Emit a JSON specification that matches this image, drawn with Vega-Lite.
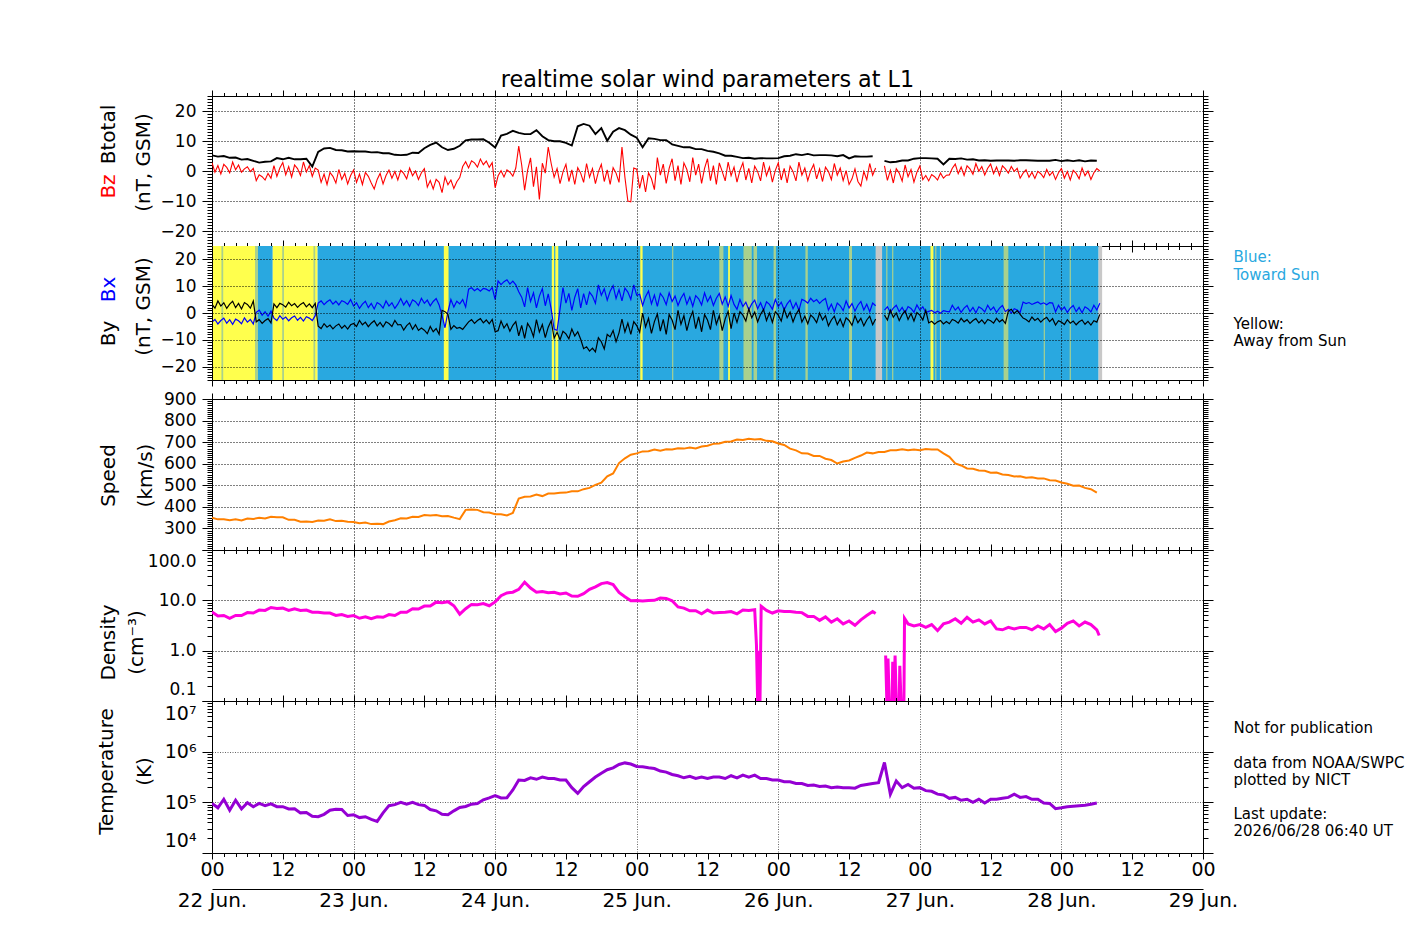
{
  "$schema": "https://vega.github.io/schema/vega-lite/v6.json",
  "padding": {"left": 96, "top": 69, "right": 8, "bottom": 8},
  "background": "white",
  "config": {
    "font": "DejaVu Sans",
    "view": {"stroke": null},
    "axis": {
      "labelFont": "DejaVu Sans", "labelFontSize": 17, "labelColor": "black",
      "titleFont": "DejaVu Sans", "titleFontSize": 20, "titleFontWeight": "normal", "titleColor": "black",
      "domainColor": "black", "tickColor": "black", "gridColor": "black", "gridDash": [1, 2], "gridWidth": 1,
      "labelFlush": false, "labelOverlap": false
    }
  },
  "datasets": {
    "bfield": [
      {"h":0,"bz":2.8,"by":3.2,"bx":-3.4},{"h":0.5,"bz":-0.4,"by":1.8,"bx":-2.4},{"h":1,"bz":1.8,"by":4.5,"bx":-4.1},{"h":1.5,"bz":-1.0,"by":2.6,"bx":-2.8},
      {"h":2,"bz":2.2,"by":3.8,"bx":-1.9},{"h":2.5,"bz":1.2,"by":1.7,"bx":-3.8},{"h":3,"bz":-0.6,"by":3.3,"bx":-2.5},{"h":3.5,"bz":3.0,"by":4.4,"bx":-4.2},
      {"h":4,"bz":0.4,"by":2.0,"bx":-2.3},{"h":4.5,"bz":2.0,"by":3.6,"bx":-2.9},{"h":5,"bz":-0.4,"by":1.5,"bx":-4.0},{"h":5.5,"bz":0.7,"by":3.9,"bx":-1.8},
      {"h":6,"bz":1.4,"by":3.2,"bx":-3.4},{"h":6.5,"bz":-0.2,"by":1.8,"bx":-2.4},{"h":7,"bz":0.9,"by":4.5,"bx":-4.1},{"h":7.5,"bz":-3.2,"by":-3.3,"bx":0.2},
      {"h":8,"bz":-1.3,"by":-2.5,"bx":1.1},{"h":8.5,"bz":-1.9,"by":-3.9,"bx":-0.8},{"h":9,"bz":-3.0,"by":-2.8,"bx":0.5},{"h":9.5,"bz":-0.8,"by":-2.1,"bx":-1.2},
      {"h":10,"bz":-2.4,"by":-3.7,"bx":0.7},{"h":10.5,"bz":1.8,"by":3.4,"bx":-1.9},{"h":11,"bz":-1.8,"by":2.0,"bx":-2.8},{"h":11.5,"bz":1.0,"by":3.6,"bx":-1.0},
      {"h":12,"bz":2.8,"by":3.1,"bx":-2.3},{"h":12.5,"bz":-1.3,"by":2.2,"bx":-1.5},{"h":13,"bz":1.5,"by":4.0,"bx":-2.9},{"h":13.5,"bz":-2.0,"by":2.7,"bx":-1.8},
      {"h":14,"bz":2.0,"by":3.5,"bx":-1.1},{"h":14.5,"bz":0.8,"by":2.1,"bx":-2.7},{"h":15,"bz":-1.5,"by":3.2,"bx":-1.6},{"h":15.5,"bz":3.0,"by":3.9,"bx":-3.0},
      {"h":16,"bz":-0.3,"by":2.3,"bx":-1.4},{"h":16.5,"bz":1.8,"by":3.4,"bx":-1.9},{"h":17,"bz":-1.8,"by":2.0,"bx":-2.8},{"h":17.5,"bz":1.0,"by":3.6,"bx":-1.0},
      {"h":18,"bz":0.3,"by":-4.9,"bx":3.7},{"h":18.5,"bz":-3.8,"by":-5.8,"bx":4.5},{"h":19,"bz":-1.0,"by":-4.0,"bx":3.1},{"h":19.5,"bz":-4.5,"by":-5.3,"bx":4.2},
      {"h":20,"bz":-0.5,"by":-4.5,"bx":4.9},{"h":20.5,"bz":-1.8,"by":-5.9,"bx":3.3},{"h":21,"bz":-4.0,"by":-4.8,"bx":4.4},{"h":21.5,"bz":0.5,"by":-4.1,"bx":3.0},
      {"h":22,"bz":-2.8,"by":-5.7,"bx":4.6},{"h":22.5,"bz":-0.8,"by":-4.6,"bx":4.1},{"h":23,"bz":-4.3,"by":-6.0,"bx":3.2},{"h":23.5,"bz":-1.5,"by":-4.4,"bx":5.0},
      {"h":24,"bz":0.3,"by":-3.9,"bx":2.6},{"h":24.5,"bz":-3.8,"by":-5.0,"bx":3.8},{"h":25,"bz":-1.0,"by":-2.8,"bx":1.7},{"h":25.5,"bz":-4.5,"by":-4.4,"bx":3.3},
      {"h":26,"bz":-0.5,"by":-3.4,"bx":4.4},{"h":26.5,"bz":-1.8,"by":-5.1,"bx":2.0},{"h":27,"bz":-4.0,"by":-3.8,"bx":3.6},{"h":27.5,"bz":-6.0,"by":-2.9,"bx":1.5},
      {"h":28,"bz":-2.8,"by":-4.8,"bx":3.9},{"h":28.5,"bz":-0.8,"by":-3.5,"bx":3.2},{"h":29,"bz":-4.3,"by":-5.2,"bx":1.8},{"h":29.5,"bz":-1.5,"by":-3.3,"bx":4.5},
      {"h":30,"bz":0.3,"by":-3.9,"bx":2.6},{"h":30.5,"bz":-2.4,"by":-5.0,"bx":3.8},{"h":31,"bz":-0.2,"by":-2.8,"bx":1.7},{"h":31.5,"bz":-3.0,"by":-4.4,"bx":3.3},
      {"h":32,"bz":0.2,"by":-4.3,"bx":5.4},{"h":32.5,"bz":-0.8,"by":-6.4,"bx":3.0},{"h":33,"bz":-2.6,"by":-4.7,"bx":4.6},{"h":33.5,"bz":1.0,"by":-3.7,"bx":2.5},
      {"h":34,"bz":-1.6,"by":-6.1,"bx":4.9},{"h":34.5,"bz":0.0,"by":-4.4,"bx":4.2},{"h":35,"bz":-2.8,"by":-6.5,"bx":2.8},{"h":35.5,"bz":-0.6,"by":-5.6,"bx":5.5},
      {"h":36,"bz":0.8,"by":-6.4,"bx":3.6},{"h":36.5,"bz":-5.4,"by":-7.7,"bx":4.8},{"h":37,"bz":-3.2,"by":-5.0,"bx":2.7},{"h":37.5,"bz":-6.0,"by":-7.0,"bx":4.3},
      {"h":38,"bz":-2.8,"by":-5.8,"bx":5.4},{"h":38.5,"bz":-3.8,"by":-7.9,"bx":3.0},{"h":39,"bz":-7.2,"by":1.0,"bx":-1.0},{"h":39.5,"bz":-2.0,"by":0.5,"bx":-5.5},
      {"h":40,"bz":-4.6,"by":-0.5,"bx":0.5},{"h":40.5,"bz":-3.0,"by":-6.1,"bx":5.0},{"h":41,"bz":-5.8,"by":-4.7,"bx":2.2},{"h":41.5,"bz":-3.6,"by":-5.7,"bx":4.4},
      {"h":42,"bz":-2.2,"by":-5.4,"bx":3.4},{"h":42.5,"bz":1.5,"by":-6.1,"bx":5.0},{"h":43,"bz":3.1,"by":-4.7,"bx":2.2},{"h":43.5,"bz":1.0,"by":-3.3,"bx":8.9},
      {"h":44,"bz":3.4,"by":-2.5,"bx":9.4},{"h":44.5,"bz":2.7,"by":-3.9,"bx":8.3},{"h":45,"bz":1.3,"by":-2.8,"bx":9.1},{"h":45.5,"bz":4.0,"by":-2.1,"bx":8.1},
      {"h":46,"bz":2.1,"by":-3.7,"bx":9.2},{"h":46.5,"bz":3.3,"by":-2.6,"bx":8.9},{"h":47,"bz":1.2,"by":-4.0,"bx":8.2},{"h":47.5,"bz":2.8,"by":-2.4,"bx":9.5},
      {"h":48,"bz":-5.6,"by":-7.0,"bx":5.0},{"h":48.5,"bz":-1.6,"by":-6.6,"bx":12.0},{"h":49,"bz":0.1,"by":-3.0,"bx":10.6},{"h":49.5,"bz":-2.0,"by":-5.6,"bx":11.7},
      {"h":50,"bz":0.4,"by":-4.0,"bx":12.4},{"h":50.5,"bz":-0.4,"by":-6.8,"bx":10.8},{"h":51,"bz":-1.7,"by":-4.6,"bx":11.9},{"h":51.5,"bz":1.0,"by":-3.2,"bx":10.5},
      {"h":52,"bz":8.3,"by":-8.5,"bx":7.9},{"h":52.5,"bz":2.0,"by":-4.6,"bx":5.9},{"h":53,"bz":-6.4,"by":-9.5,"bx":2.3},{"h":53.5,"bz":0.2,"by":-3.9,"bx":9.5},
      {"h":54,"bz":4.4,"by":-5.7,"bx":4.3},{"h":54.5,"bz":-5.2,"by":-8.8,"bx":7.5},{"h":55,"bz":1.4,"by":-2.5,"bx":1.9},{"h":55.5,"bz":-9.5,"by":-7.1,"bx":6.3},
      {"h":56,"bz":2.6,"by":-4.3,"bx":9.1},{"h":56.5,"bz":-0.7,"by":-9.2,"bx":2.7},{"h":57,"bz":8.0,"by":-5.3,"bx":7.1},{"h":57.5,"bz":2.5,"by":-2.9,"bx":1.5},
      {"h":58,"bz":-2.1,"by":-9.4,"bx":-6.0},{"h":58.5,"bz":0.8,"by":-7.2,"bx":-6.5},{"h":59,"bz":-4.2,"by":-10.0,"bx":1.4},{"h":59.5,"bz":-0.3,"by":-6.8,"bx":9.5},
      {"h":60,"bz":2.2,"by":-7.8,"bx":3.7},{"h":60.5,"bz":-3.5,"by":-9.6,"bx":7.3},{"h":61,"bz":0.4,"by":-6.0,"bx":1.0},{"h":61.5,"bz":-4.5,"by":-8.6,"bx":5.9},
      {"h":62,"bz":1.1,"by":-7.0,"bx":9.1},{"h":62.5,"bz":-0.7,"by":-9.8,"bx":1.9},{"h":63,"bz":-3.8,"by":-13.3,"bx":7.2},{"h":63.5,"bz":2.5,"by":-12.6,"bx":3.0},
      {"h":64,"bz":-2.1,"by":-14.2,"bx":7.8},{"h":64.5,"bz":0.8,"by":-13.1,"bx":6.3},{"h":65,"bz":-4.2,"by":-14.5,"bx":3.6},{"h":65.5,"bz":-0.3,"by":-9.2,"bx":10.5},
      {"h":66,"bz":2.2,"by":-10.7,"bx":6.6},{"h":66.5,"bz":-3.5,"by":-13.4,"bx":9.0},{"h":67,"bz":0.4,"by":-8.0,"bx":4.8},{"h":67.5,"bz":-4.5,"by":-8.9,"bx":8.1},
      {"h":68,"bz":1.1,"by":-6.5,"bx":10.2},{"h":68.5,"bz":-0.7,"by":-10.7,"bx":5.4},{"h":69,"bz":-3.8,"by":-7.4,"bx":8.7},{"h":69.5,"bz":8.0,"by":-2.3,"bx":4.5},
      {"h":70,"bz":-2.1,"by":-7.1,"bx":9.3},{"h":70.5,"bz":-10.0,"by":-3.8,"bx":7.8},{"h":71,"bz":-10.3,"by":-8.0,"bx":5.1},{"h":71.5,"bz":1.0,"by":-3.2,"bx":10.5},
      {"h":72,"bz":0.6,"by":-4.7,"bx":6.6},{"h":72.5,"bz":-5.8,"by":-7.2,"bx":7.0},{"h":73,"bz":-1.4,"by":0.0,"bx":2.8},{"h":73.5,"bz":-7.0,"by":-5.2,"bx":6.1},
      {"h":74,"bz":-0.6,"by":-2.0,"bx":8.2},{"h":74.5,"bz":-2.6,"by":-7.6,"bx":3.4},{"h":75,"bz":-6.2,"by":-3.2,"bx":6.7},{"h":75.5,"bz":4.5,"by":-0.4,"bx":2.5},
      {"h":76,"bz":-1.4,"by":-6.8,"bx":7.3},{"h":76.5,"bz":2.3,"by":-2.4,"bx":5.8},{"h":77,"bz":-4.1,"by":-8.0,"bx":3.1},{"h":77.5,"bz":0.9,"by":-0.6,"bx":7.5},
      {"h":78,"bz":4.1,"by":-2.6,"bx":4.3},{"h":78.5,"bz":-3.2,"by":-6.2,"bx":6.3},{"h":79,"bz":1.8,"by":1.0,"bx":2.8},{"h":79.5,"bz":-4.5,"by":-4.2,"bx":5.5},
      {"h":80,"bz":2.7,"by":-1.0,"bx":7.3},{"h":80.5,"bz":0.5,"by":-6.6,"bx":3.3},{"h":81,"bz":-3.6,"by":-2.2,"bx":6.0},{"h":81.5,"bz":4.5,"by":0.6,"bx":2.5},
      {"h":82,"bz":-1.4,"by":-5.8,"bx":6.5},{"h":82.5,"bz":2.3,"by":-1.4,"bx":5.3},{"h":83,"bz":-4.1,"by":-7.0,"bx":3.0},{"h":83.5,"bz":0.9,"by":-0.6,"bx":7.5},
      {"h":84,"bz":4.1,"by":-2.6,"bx":4.3},{"h":84.5,"bz":-3.2,"by":-6.2,"bx":6.3},{"h":85,"bz":1.8,"by":1.0,"bx":2.8},{"h":85.5,"bz":-4.5,"by":-4.2,"bx":5.5},
      {"h":86,"bz":2.7,"by":-1.0,"bx":7.3},{"h":86.5,"bz":-0.2,"by":-6.6,"bx":3.3},{"h":87,"bz":-3.3,"by":-2.2,"bx":6.0},{"h":87.5,"bz":3.0,"by":0.6,"bx":2.5},
      {"h":88,"bz":-1.6,"by":-5.8,"bx":6.5},{"h":88.5,"bz":1.3,"by":0.0,"bx":3.2},{"h":89,"bz":-3.7,"by":-3.5,"bx":1.4},{"h":89.5,"bz":0.2,"by":0.5,"bx":5.0},
      {"h":90,"bz":2.7,"by":-0.8,"bx":2.4},{"h":90.5,"bz":-3.0,"by":-3.0,"bx":4.0},{"h":91,"bz":0.9,"by":1.5,"bx":1.2},{"h":91.5,"bz":-4.0,"by":-1.8,"bx":3.4},
      {"h":92,"bz":1.6,"by":0.3,"bx":4.8},{"h":92.5,"bz":-0.2,"by":-3.3,"bx":1.6},{"h":93,"bz":-3.3,"by":-0.5,"bx":3.8},{"h":93.5,"bz":3.0,"by":1.3,"bx":1.0},
      {"h":94,"bz":-1.6,"by":-2.8,"bx":4.2},{"h":94.5,"bz":1.3,"by":0.0,"bx":3.2},{"h":95,"bz":-3.7,"by":-3.5,"bx":1.4},{"h":95.5,"bz":0.2,"by":0.5,"bx":5.0},
      {"h":96,"bz":2.7,"by":-0.8,"bx":2.4},{"h":96.5,"bz":-3.0,"by":-3.0,"bx":4.0},{"h":97,"bz":0.9,"by":1.5,"bx":1.2},{"h":97.5,"bz":-4.0,"by":-1.8,"bx":3.4},
      {"h":98,"bz":1.6,"by":0.3,"bx":4.8},{"h":98.5,"bz":-0.2,"by":-3.3,"bx":1.6},{"h":99,"bz":-3.3,"by":-0.5,"bx":3.8},{"h":99.5,"bz":3.0,"by":1.3,"bx":1.0},
      {"h":100,"bz":-1.4,"by":-3.4,"bx":5.1},{"h":100.5,"bz":1.0,"by":-1.2,"bx":4.6},{"h":101,"bz":-3.2,"by":-4.0,"bx":3.7},{"h":101.5,"bz":0.1,"by":-0.8,"bx":5.5},
      {"h":102,"bz":2.2,"by":-1.8,"bx":4.2},{"h":102.5,"bz":-2.6,"by":-3.6,"bx":5.0},{"h":103,"bz":0.7,"by":0.0,"bx":3.6},{"h":103.5,"bz":-3.5,"by":-2.6,"bx":4.7},
      {"h":104,"bz":1.3,"by":-1.0,"bx":5.4},{"h":104.5,"bz":-0.2,"by":-4.8,"bx":1.1},{"h":105,"bz":-2.9,"by":-2.6,"bx":3.3},{"h":105.5,"bz":2.5,"by":-1.2,"bx":0.5},
      {"h":106,"bz":-1.4,"by":-4.4,"bx":3.7},{"h":106.5,"bz":1.0,"by":-2.2,"bx":2.7},{"h":107,"bz":-3.2,"by":-5.0,"bx":0.9},{"h":107.5,"bz":0.1,"by":-1.8,"bx":4.5},
      {"h":108,"bz":-4.5,"by":-2.8,"bx":1.9},{"h":108.5,"bz":-2.6,"by":-4.6,"bx":3.5},{"h":109,"bz":0.7,"by":-1.0,"bx":0.7},{"h":109.5,"bz":-3.5,"by":-3.6,"bx":2.9},
      {"h":110,"bz":-5.0,"by":-2.0,"bx":4.3},{"h":110.5,"bz":-0.2,"by":-4.8,"bx":1.1},{"h":111,"bz":-2.9,"by":-2.6,"bx":3.3},{"h":111.5,"bz":2.5,"by":-1.2,"bx":0.5},
      {"h":112,"bz":-1.4,"by":-4.4,"bx":3.7},{"h":112.5,"bz":1.0,"by":-2.2,"bx":2.7},{"h":113,"bz":null,"by":null,"bx":null},{"h":113.5,"bz":null,"by":null,"bx":null},
      {"h":114,"bz":1.7,"by":-0.8,"bx":1.1},{"h":114.5,"bz":-3.1,"by":-2.6,"bx":2.3},{"h":115,"bz":0.2,"by":1.0,"bx":0.2},{"h":115.5,"bz":-4.0,"by":-1.6,"bx":1.8},
      {"h":116,"bz":0.8,"by":0.0,"bx":2.9},{"h":116.5,"bz":-0.7,"by":-2.8,"bx":0.5},{"h":117,"bz":-3.4,"by":-0.6,"bx":2.1},{"h":117.5,"bz":2.0,"by":0.8,"bx":0.0},
      {"h":118,"bz":-1.9,"by":-2.4,"bx":2.4},{"h":118.5,"bz":0.5,"by":-0.2,"bx":1.7},{"h":119,"bz":-3.7,"by":-3.0,"bx":0.3},{"h":119.5,"bz":-0.4,"by":0.2,"bx":3.0},
      {"h":120,"bz":1.7,"by":-0.8,"bx":1.1},{"h":120.5,"bz":-2.9,"by":-2.6,"bx":2.3},{"h":121,"bz":-1.5,"by":1.0,"bx":0.2},{"h":121.5,"bz":-3.3,"by":-3.7,"bx":0.6},
      {"h":122,"bz":-1.2,"by":-3.1,"bx":1.0},{"h":122.5,"bz":-1.9,"by":-4.2,"bx":0.1},{"h":123,"bz":-3.0,"by":-3.3,"bx":0.7},{"h":123.5,"bz":-0.7,"by":-2.8,"bx":-0.1},
      {"h":124,"bz":-2.4,"by":-4.1,"bx":0.9},{"h":124.5,"bz":-1.4,"by":-3.2,"bx":0.6},{"h":125,"bz":-1.3,"by":-4.0,"bx":0.4},{"h":125.5,"bz":0.9,"by":-2.4,"bx":2.9},
      {"h":126,"bz":2.3,"by":-2.9,"bx":1.1},{"h":126.5,"bz":-0.9,"by":-3.8,"bx":2.2},{"h":127,"bz":1.3,"by":-2.0,"bx":0.2},{"h":127.5,"bz":-1.5,"by":-3.3,"bx":1.8},
      {"h":128,"bz":1.7,"by":-2.5,"bx":2.8},{"h":128.5,"bz":0.7,"by":-3.9,"bx":0.5},{"h":129,"bz":-1.1,"by":-2.8,"bx":2.1},{"h":129.5,"bz":2.5,"by":-2.1,"bx":0.1},
      {"h":130,"bz":-0.1,"by":-3.7,"bx":2.3},{"h":130.5,"bz":1.5,"by":-2.6,"bx":1.6},{"h":131,"bz":-1.3,"by":-4.0,"bx":0.4},{"h":131.5,"bz":0.9,"by":-2.4,"bx":2.9},
      {"h":132,"bz":2.3,"by":-2.9,"bx":1.1},{"h":132.5,"bz":-0.9,"by":-3.8,"bx":2.2},{"h":133,"bz":1.3,"by":-2.0,"bx":0.2},{"h":133.5,"bz":-1.5,"by":-3.3,"bx":1.8},
      {"h":134,"bz":1.7,"by":-2.5,"bx":2.8},{"h":134.5,"bz":0.7,"by":-3.9,"bx":0.5},{"h":135,"bz":-0.7,"by":0.7,"bx":1.4},{"h":135.5,"bz":1.5,"by":1.4,"bx":0.0},
      {"h":136,"bz":-0.1,"by":-0.2,"bx":1.6},{"h":136.5,"bz":0.9,"by":0.9,"bx":1.1},{"h":137,"bz":-2.4,"by":-0.5,"bx":0.2},{"h":137.5,"bz":-0.7,"by":-1.9,"bx":4.1},
      {"h":138,"bz":0.4,"by":-2.4,"bx":3.5},{"h":138.5,"bz":-2.1,"by":-3.3,"bx":3.9},{"h":139,"bz":-0.4,"by":-1.5,"bx":3.2},{"h":139.5,"bz":-2.5,"by":-2.8,"bx":3.7},
      {"h":140,"bz":-0.1,"by":-2.0,"bx":4.1},{"h":140.5,"bz":-0.9,"by":-3.4,"bx":3.3},{"h":141,"bz":-2.2,"by":-2.3,"bx":3.8},{"h":141.5,"bz":0.5,"by":-1.6,"bx":3.1},
      {"h":142,"bz":-1.5,"by":-3.2,"bx":3.9},{"h":142.5,"bz":-0.3,"by":-2.1,"bx":3.7},{"h":143,"bz":-2.8,"by":-4.5,"bx":0.4},{"h":143.5,"bz":-0.6,"by":-2.9,"bx":2.9},
      {"h":144,"bz":0.8,"by":-3.4,"bx":1.1},{"h":144.5,"bz":-2.4,"by":-4.3,"bx":2.2},{"h":145,"bz":-0.2,"by":-2.5,"bx":0.2},{"h":145.5,"bz":-3.0,"by":-3.8,"bx":1.8},
      {"h":146,"bz":0.2,"by":-3.0,"bx":2.8},{"h":146.5,"bz":-0.8,"by":-4.4,"bx":0.5},{"h":147,"bz":-2.6,"by":-3.3,"bx":2.1},{"h":147.5,"bz":1.0,"by":-2.6,"bx":0.1},
      {"h":148,"bz":-1.6,"by":-4.2,"bx":2.3},{"h":148.5,"bz":0.0,"by":-3.1,"bx":1.6},{"h":149,"bz":-2.8,"by":-4.5,"bx":0.4},{"h":149.5,"bz":-0.6,"by":-2.9,"bx":2.9},
      {"h":150,"bz":0.8,"by":-3.4,"bx":1.1},{"h":150.5,"bz":0.0,"by":-0.5,"bx":3.6}
    ],
    "plasma": [
      {"h":0,"bt":5.2,"v":350,"T":95000},{"h":1,"bt":4.8,"v":342,"T":78000},{"h":2,"bt":5.0,"v":343,"T":115000},{"h":3,"bt":4.4,"v":338,"T":70000},
      {"h":4,"bt":4.5,"v":342,"T":110000},{"h":5,"bt":3.8,"v":337,"T":74000},{"h":6,"bt":4.0,"v":346,"T":98000},{"h":7,"bt":3.4,"v":344,"T":82000},
      {"h":8,"bt":2.8,"v":349,"T":95000},{"h":9,"bt":3.1,"v":346,"T":86000},{"h":10,"bt":3.2,"v":354,"T":93000},{"h":11,"bt":4.3,"v":352,"T":82000},
      {"h":12,"bt":3.9,"v":352,"T":82000},{"h":13,"bt":4.4,"v":340,"T":74000},{"h":14,"bt":3.9,"v":340,"T":75000},{"h":15,"bt":3.9,"v":331,"T":62000},
      {"h":16,"bt":4.1,"v":332,"T":63000},{"h":17,"bt":1.5,"v":330,"T":53000},{"h":18,"bt":6.4,"v":337,"T":52000},{"h":19,"bt":7.5,"v":336,"T":58000},
      {"h":20,"bt":7.7,"v":342,"T":70000},{"h":21,"bt":7.0,"v":334,"T":73000},{"h":22,"bt":6.9,"v":336,"T":72000},{"h":23,"bt":6.5,"v":331,"T":55000},
      {"h":24,"bt":6.6,"v":330,"T":57000},{"h":25,"bt":6.5,"v":324,"T":50000},{"h":26,"bt":6.5,"v":327,"T":52000},{"h":27,"bt":6.2,"v":320,"T":46000},
      {"h":28,"bt":6.3,"v":322,"T":42000},{"h":29,"bt":5.9,"v":320,"T":62000},{"h":30,"bt":5.9,"v":332,"T":86000},{"h":31,"bt":5.4,"v":338,"T":90000},
      {"h":32,"bt":5.3,"v":347,"T":100000},{"h":33,"bt":5.4,"v":346,"T":92000},{"h":34,"bt":6.1,"v":354,"T":100000},{"h":35,"bt":6.0,"v":353,"T":90000},
      {"h":36,"bt":7.6,"v":362,"T":87000},{"h":37,"bt":8.7,"v":360,"T":72000},{"h":38,"bt":9.5,"v":362,"T":68000},{"h":39,"bt":7.9,"v":356,"T":58000},
      {"h":40,"bt":7.0,"v":358,"T":57000},{"h":41,"bt":7.4,"v":350,"T":68000},{"h":42,"bt":8.4,"v":343,"T":79000},{"h":43,"bt":10.2,"v":386,"T":83000},
      {"h":44,"bt":10.5,"v":388,"T":92000},{"h":45,"bt":10.5,"v":386,"T":95000},{"h":46,"bt":10.6,"v":375,"T":112000},{"h":47,"bt":9.4,"v":374,"T":122000},
      {"h":48,"bt":7.8,"v":366,"T":136000},{"h":49,"bt":11.8,"v":366,"T":122000},{"h":50,"bt":12.4,"v":360,"T":123000},{"h":51,"bt":13.4,"v":372,"T":175000},
      {"h":52,"bt":12.7,"v":438,"T":275000},{"h":53,"bt":12.3,"v":447,"T":270000},{"h":54,"bt":12.3,"v":448,"T":305000},{"h":55,"bt":13.6,"v":457,"T":285000},
      {"h":56,"bt":11.6,"v":450,"T":315000},{"h":57,"bt":10.3,"v":462,"T":295000},{"h":58,"bt":9.9,"v":462,"T":295000},{"h":59,"bt":9.9,"v":465,"T":275000},
      {"h":60,"bt":9.4,"v":466,"T":275000},{"h":61,"bt":8.5,"v":472,"T":195000},{"h":62,"bt":14.9,"v":472,"T":150000},{"h":63,"bt":15.7,"v":482,"T":205000},
      {"h":64,"bt":15.1,"v":488,"T":255000},{"h":65,"bt":12.3,"v":502,"T":315000},{"h":66,"bt":14.3,"v":512,"T":375000},{"h":67,"bt":10.1,"v":542,"T":440000},
      {"h":68,"bt":13.1,"v":555,"T":480000},{"h":69,"bt":14.3,"v":603,"T":560000},{"h":70,"bt":13.6,"v":625,"T":600000},{"h":71,"bt":12.1,"v":642,"T":570000},
      {"h":72,"bt":11.1,"v":648,"T":510000},{"h":73,"bt":7.9,"v":657,"T":505000},{"h":74,"bt":10.9,"v":658,"T":480000},{"h":75,"bt":10.7,"v":666,"T":465000},
      {"h":76,"bt":10.3,"v":660,"T":415000},{"h":77,"bt":10.3,"v":667,"T":395000},{"h":78,"bt":8.9,"v":666,"T":355000},{"h":79,"bt":8.4,"v":672,"T":335000},
      {"h":80,"bt":7.9,"v":670,"T":305000},{"h":81,"bt":7.9,"v":675,"T":325000},{"h":82,"bt":7.3,"v":671,"T":295000},{"h":83,"bt":7.3,"v":680,"T":315000},
      {"h":84,"bt":6.7,"v":683,"T":295000},{"h":85,"bt":6.4,"v":692,"T":315000},{"h":86,"bt":5.9,"v":694,"T":315000},{"h":87,"bt":5.1,"v":702,"T":295000},
      {"h":88,"bt":5.1,"v":703,"T":335000},{"h":89,"bt":4.7,"v":712,"T":305000},{"h":90,"bt":4.3,"v":710,"T":345000},{"h":91,"bt":4.4,"v":716,"T":315000},
      {"h":92,"bt":4.1,"v":712,"T":345000},{"h":93,"bt":4.3,"v":714,"T":295000},{"h":94,"bt":4.2,"v":706,"T":295000},{"h":95,"bt":4.2,"v":704,"T":275000},
      {"h":96,"bt":4.3,"v":694,"T":275000},{"h":97,"bt":4.9,"v":687,"T":255000},{"h":98,"bt":5.1,"v":670,"T":255000},{"h":99,"bt":5.6,"v":662,"T":235000},
      {"h":100,"bt":5.3,"v":648,"T":235000},{"h":101,"bt":5.7,"v":647,"T":215000},{"h":102,"bt":5.2,"v":636,"T":220000},{"h":103,"bt":5.3,"v":636,"T":205000},
      {"h":104,"bt":5.3,"v":623,"T":210000},{"h":105,"bt":5.2,"v":617,"T":195000},{"h":106,"bt":4.9,"v":601,"T":200000},{"h":107,"bt":5.3,"v":610,"T":195000},
      {"h":108,"bt":4.2,"v":615,"T":193000},{"h":109,"bt":4.9,"v":627,"T":190000},{"h":110,"bt":4.8,"v":638,"T":215000},{"h":111,"bt":4.8,"v":652,"T":225000},
      {"h":112,"bt":4.9,"v":648,"T":235000},{"h":113,"bt":null,"v":654,"T":245000},{"h":114,"bt":3.4,"v":654,"T":610000},{"h":115,"bt":2.9,"v":662,"T":145000},
      {"h":116,"bt":3.1,"v":662,"T":265000},{"h":117,"bt":3.5,"v":667,"T":195000},{"h":118,"bt":3.5,"v":662,"T":225000},{"h":119,"bt":4.1,"v":666,"T":190000},
      {"h":120,"bt":4.3,"v":663,"T":195000},{"h":121,"bt":4.3,"v":668,"T":170000},{"h":122,"bt":4.2,"v":666,"T":165000},{"h":123,"bt":4.1,"v":666,"T":145000},
      {"h":124,"bt":2.2,"v":648,"T":140000},{"h":125,"bt":4.1,"v":632,"T":120000},{"h":126,"bt":4.0,"v":601,"T":125000},{"h":127,"bt":4.2,"v":592,"T":110000},
      {"h":128,"bt":3.8,"v":578,"T":115000},{"h":129,"bt":3.9,"v":577,"T":100000},{"h":130,"bt":3.5,"v":569,"T":115000},{"h":131,"bt":3.6,"v":567,"T":97000},
      {"h":132,"bt":3.4,"v":558,"T":115000},{"h":133,"bt":3.5,"v":559,"T":115000},{"h":134,"bt":3.5,"v":550,"T":120000},{"h":135,"bt":3.5,"v":548,"T":125000},
      {"h":136,"bt":3.4,"v":541,"T":145000},{"h":137,"bt":3.6,"v":542,"T":125000},{"h":138,"bt":3.6,"v":535,"T":130000},{"h":139,"bt":3.5,"v":537,"T":115000},
      {"h":140,"bt":3.4,"v":532,"T":115000},{"h":141,"bt":3.4,"v":532,"T":97000},{"h":142,"bt":3.4,"v":523,"T":95000},{"h":143,"bt":3.7,"v":522,"T":75000},
      {"h":144,"bt":3.3,"v":513,"T":78000},{"h":145,"bt":3.6,"v":507,"T":82000},{"h":146,"bt":3.3,"v":498,"T":84000},{"h":147,"bt":3.6,"v":499,"T":86000},
      {"h":148,"bt":3.2,"v":488,"T":88000},{"h":149,"bt":3.5,"v":482,"T":92000},{"h":150,"bt":3.4,"v":466,"T":97000}
    ],
    "density": [
      {"h":0,"n":5.9},{"h":1,"n":4.9},{"h":2,"n":5.0},{"h":3,"n":4.4},{"h":4,"n":5.0},{"h":5,"n":5.0},{"h":6,"n":5.7},{"h":7,"n":5.6},
      {"h":8,"n":6.4},{"h":9,"n":6.3},{"h":10,"n":7.2},{"h":11,"n":6.9},{"h":12,"n":7.0},{"h":13,"n":6.3},{"h":14,"n":6.8},{"h":15,"n":6.3},
      {"h":16,"n":6.4},{"h":17,"n":5.8},{"h":18,"n":5.8},{"h":19,"n":5.6},{"h":20,"n":5.6},{"h":21,"n":5.0},{"h":22,"n":5.2},{"h":23,"n":4.8},
      {"h":24,"n":5.0},{"h":25,"n":4.4},{"h":26,"n":4.7},{"h":27,"n":4.3},{"h":28,"n":4.7},{"h":29,"n":4.6},{"h":30,"n":5.2},{"h":31,"n":5.0},
      {"h":32,"n":5.8},{"h":33,"n":5.8},{"h":34,"n":6.8},{"h":35,"n":6.7},{"h":36,"n":7.7},{"h":37,"n":7.7},{"h":38,"n":9.2},{"h":39,"n":9.0},
      {"h":40,"n":9.4},{"h":41,"n":7.8},{"h":42,"n":5.3},{"h":43,"n":6.8},{"h":44,"n":8.3},{"h":45,"n":8.2},{"h":46,"n":8.6},{"h":47,"n":7.8},
      {"h":48,"n":9.3},{"h":49,"n":12.4},{"h":50,"n":14.0},{"h":51,"n":14.5},{"h":52,"n":16.5},{"h":53,"n":23},{"h":54,"n":17.5},{"h":55,"n":14.5},
      {"h":56,"n":15.0},{"h":57,"n":14.2},{"h":58,"n":14.5},{"h":59,"n":13.4},{"h":60,"n":14.0},{"h":61,"n":12.2},{"h":62,"n":12.0},{"h":63,"n":13.6},
      {"h":64,"n":16.5},{"h":65,"n":18.5},{"h":66,"n":21.5},{"h":67,"n":22.5},{"h":68,"n":20.5},{"h":69,"n":14.4},{"h":70,"n":11.8},{"h":71,"n":9.8},
      {"h":72,"n":9.9},{"h":73,"n":9.7},{"h":74,"n":9.9},{"h":75,"n":10.0},{"h":76,"n":11.1},{"h":77,"n":10.9},{"h":78,"n":9.8},{"h":79,"n":7.4},
      {"h":80,"n":7.0},{"h":81,"n":6.2},{"h":82,"n":6.2},{"h":83,"n":5.4},{"h":84,"n":6.4},{"h":85,"n":5.6},{"h":86,"n":5.7},{"h":87,"n":5.8},
      {"h":88,"n":6.0},{"h":89,"n":5.4},{"h":90,"n":6.4},{"h":91,"n":6.3},{"h":92,"n":6.5},{"h":92.3,"n":1.3},{"h":92.5,"n":0.1},{"h":92.7,"n":1.0},
      {"h":92.9,"n":0.1},{"h":93.1,"n":7.6},{"h":94,"n":6.3},{"h":95,"n":5.6},{"h":96,"n":6.2},{"h":97,"n":6.0},{"h":98,"n":6.0},{"h":99,"n":5.8},
      {"h":100,"n":5.7},{"h":101,"n":4.8},{"h":102,"n":4.8},{"h":103,"n":4.0},{"h":104,"n":4.7},{"h":105,"n":3.7},{"h":106,"n":4.3},{"h":107,"n":3.4},
      {"h":108,"n":3.9},{"h":109,"n":3.2},{"h":110,"n":4.1},{"h":111,"n":5.0},{"h":112,"n":6.0},{"h":112.5,"n":5.5},{"h":113,"n":null},
      {"h":114.2,"n":0.8},{"h":114.4,"n":0.1},{"h":114.6,"n":0.7},{"h":114.8,"n":0.1},{"h":115.3,"n":0.1},{"h":115.4,"n":0.6},{"h":115.6,"n":0.1},
      {"h":115.8,"n":0.8},{"h":116.0,"n":0.1},{"h":116.5,"n":0.1},{"h":116.6,"n":0.5},{"h":116.8,"n":0.1},{"h":117.3,"n":0.1},{"h":117.4,"n":4.4},
      {"h":118,"n":3.4},{"h":119,"n":3.1},{"h":120,"n":3.3},{"h":121,"n":2.9},{"h":122,"n":3.3},{"h":123,"n":2.5},{"h":124,"n":3.4},{"h":125,"n":3.7},
      {"h":126,"n":4.3},{"h":127,"n":3.5},{"h":128,"n":4.6},{"h":129,"n":3.7},{"h":130,"n":4.1},{"h":131,"n":3.4},{"h":132,"n":3.9},{"h":133,"n":2.7},
      {"h":134,"n":2.6},{"h":135,"n":2.9},{"h":136,"n":2.7},{"h":137,"n":2.9},{"h":138,"n":2.9},{"h":139,"n":2.6},{"h":140,"n":3.1},{"h":141,"n":2.7},
      {"h":142,"n":3.3},{"h":143,"n":2.4},{"h":144,"n":2.8},{"h":145,"n":3.5},{"h":146,"n":3.9},{"h":147,"n":3.1},{"h":148,"n":3.7},{"h":149,"n":3.3},
      {"h":150,"n":2.6},{"h":150.4,"n":2.0}
    ],
    "sectors": [
      {"start":0,"end":7.4,"s":"away"},{"start":7.4,"end":10.3,"s":"toward"},{"start":10.3,"end":17.9,"s":"away"},
      {"start":17.9,"end":150.3,"s":"toward"},{"start":150.3,"end":150.9,"s":"none"},
      {"start":1.6,"end":1.9,"s":"mixed"},{"start":7.3,"end":7.8,"s":"mixed"},{"start":11.9,"end":12.2,"s":"mixed"},{"start":17.2,"end":17.5,"s":"mixed"},
      {"start":39.3,"end":40.1,"s":"away"},{"start":57.6,"end":58.0,"s":"away"},{"start":58.2,"end":58.7,"s":"away"},{"start":72.6,"end":73.0,"s":"away"},
      {"start":78.0,"end":78.2,"s":"mixed"},{"start":86.0,"end":86.7,"s":"mixed"},{"start":87.5,"end":87.8,"s":"away"},{"start":90.1,"end":91.5,"s":"mixed"},
      {"start":91.8,"end":92.4,"s":"mixed"},{"start":95.2,"end":95.6,"s":"mixed"},{"start":100.6,"end":101.0,"s":"mixed"},{"start":108.0,"end":108.5,"s":"mixed"},
      {"start":112.5,"end":113.6,"s":"none"},{"start":114.3,"end":114.5,"s":"mixed"},{"start":115.3,"end":115.5,"s":"mixed"},{"start":121.8,"end":122.3,"s":"away"},
      {"start":122.6,"end":122.8,"s":"mixed"},{"start":123.4,"end":123.6,"s":"mixed"},{"start":134.2,"end":135.0,"s":"mixed"},{"start":141.0,"end":141.2,"s":"mixed"},
      {"start":145.4,"end":145.6,"s":"mixed"}
    ]
  },
  "vconcat": [
    {
      "width": 991, "height": 150,
      "title": {"text": "realtime solar wind parameters at L1", "frame": "group", "anchor": "middle", "fontSize": 22.3, "fontWeight": "normal", "font": "DejaVu Sans", "color": "black", "offset": -4.5},
      "resolve": {"axis": {"x": "independent", "y": "independent"}},
      "layer": [
        {
          "data": {"name": "bfield"},
          "mark": {"type": "line", "color": "#ff0000", "strokeWidth": 1.1, "clip": true, "invalid": "break-paths-show-domains"},
          "encoding": {
            "x": {"field": "h", "type": "quantitative", "scale": {"domain": [0, 168], "nice": false, "zero": false},
              "axis": {"orient": "bottom", "title": null, "labels": false, "values": [0,2,4,6,8,10,12,14,16,18,20,22,24,26,28,30,32,34,36,38,40,42,44,46,48,50,52,54,56,58,60,62,64,66,68,70,72,74,76,78,80,82,84,86,88,90,92,94,96,98,100,102,104,106,108,110,112,114,116,118,120,122,124,126,128,130,132,134,136,138,140,142,144,146,148,150,152,154,156,158,160,162,164,166,168],
                "tickSize": {"condition": {"test": "datum.value % 12 === 0", "value": 6}, "value": 3.5},
                "grid": true, "gridOpacity": {"condition": {"test": "datum.value % 24 === 0", "value": 1}, "value": 0}}},
            "y": {"field": "bz", "type": "quantitative", "scale": {"domain": [-25, 25], "nice": false, "zero": false},
              "axis": {"orient": "left", "values": [-25,-24,-23,-22,-21,-20,-19,-18,-17,-16,-15,-14,-13,-12,-11,-10,-9,-8,-7,-6,-5,-4,-3,-2,-1,0,1,2,3,4,5,6,7,8,9,10,11,12,13,14,15,16,17,18,19,20,21,22,23,24,25],
                "labelExpr": "datum.value % 10 === 0 ? datum.label : ''", "labelPadding": 6,
                "tickSize": {"condition": {"test": "datum.value % 10 === 0", "value": 10}, "value": 5},
                "grid": true, "gridOpacity": {"condition": {"test": "datum.value % 10 === 0 && abs(datum.value) < 25", "value": 1}, "value": 0},
                "title": "(nT, GSM)", "titleX": -69, "titleY": 66, "titleAngle": -90, "titleBaseline": "middle", "titleAlign": "center"}}
          }
        },
        {
          "data": {"name": "plasma"},
          "mark": {"type": "line", "color": "#000000", "strokeWidth": 1.9, "clip": true, "invalid": "break-paths-show-domains"},
          "encoding": {
            "x": {"field": "h", "type": "quantitative", "scale": {"domain": [0, 168], "nice": false, "zero": false},
              "axis": {"orient": "top", "title": null, "labels": false, "grid": false, "values": [0,2,4,6,8,10,12,14,16,18,20,22,24,26,28,30,32,34,36,38,40,42,44,46,48,50,52,54,56,58,60,62,64,66,68,70,72,74,76,78,80,82,84,86,88,90,92,94,96,98,100,102,104,106,108,110,112,114,116,118,120,122,124,126,128,130,132,134,136,138,140,142,144,146,148,150,152,154,156,158,160,162,164,166,168],
                "tickSize": {"condition": {"test": "datum.value % 12 === 0", "value": 6}, "value": 3.5}}},
            "y": {"field": "bt", "type": "quantitative", "scale": {"domain": [-25, 25], "nice": false, "zero": false},
              "axis": {"orient": "right", "title": null, "labels": false, "grid": false, "values": [-25,-24,-23,-22,-21,-20,-19,-18,-17,-16,-15,-14,-13,-12,-11,-10,-9,-8,-7,-6,-5,-4,-3,-2,-1,0,1,2,3,4,5,6,7,8,9,10,11,12,13,14,15,16,17,18,19,20,21,22,23,24,25],
                "tickSize": {"condition": {"test": "datum.value % 10 === 0", "value": 10}, "value": 5}}}
          }
        },
        {
          "data": {"name": "plasma"},
          "mark": {"type": "line", "opacity": 0},
          "encoding": {
            "x": {"field": "h", "type": "quantitative", "scale": {"domain": [0, 168], "nice": false, "zero": false}, "axis": null},
            "y": {"field": "bt", "type": "quantitative", "scale": {"domain": [-25, 25], "nice": false, "zero": false},
              "axis": {"orient": "left", "title": "Btotal", "labels": false, "ticks": false, "domain": false, "grid": false,
                "titleX": -104, "titleY": 38, "titleAngle": -90, "titleBaseline": "middle", "titleAlign": "center"}}
          }
        },
        {
          "data": {"name": "bfield"},
          "mark": {"type": "line", "opacity": 0},
          "encoding": {
            "x": {"field": "h", "type": "quantitative", "scale": {"domain": [0, 168], "nice": false, "zero": false}, "axis": null},
            "y": {"field": "bz", "type": "quantitative", "scale": {"domain": [-25, 25], "nice": false, "zero": false},
              "axis": {"orient": "left", "title": "Bz", "titleColor": "#ff0000", "labels": false, "ticks": false, "domain": false, "grid": false,
                "titleX": -104, "titleY": 90, "titleAngle": -90, "titleBaseline": "middle", "titleAlign": "center"}}
          }
        }
      ]
    },
    {
      "width": 991, "height": 134,
      "resolve": {"axis": {"x": "independent", "y": "independent"}},
      "layer": [
        {
          "data": {"name": "sectors"},
          "mark": {"type": "rect"},
          "encoding": {
            "x": {"field": "start", "type": "quantitative", "scale": {"domain": [0, 168], "nice": false, "zero": false},
              "axis": {"orient": "bottom", "title": null, "labels": false, "zindex": 1, "values": [0,2,4,6,8,10,12,14,16,18,20,22,24,26,28,30,32,34,36,38,40,42,44,46,48,50,52,54,56,58,60,62,64,66,68,70,72,74,76,78,80,82,84,86,88,90,92,94,96,98,100,102,104,106,108,110,112,114,116,118,120,122,124,126,128,130,132,134,136,138,140,142,144,146,148,150,152,154,156,158,160,162,164,166,168],
                "tickSize": {"condition": {"test": "datum.value % 12 === 0", "value": 6}, "value": 3.5},
                "grid": true, "gridOpacity": {"condition": {"test": "datum.value % 24 === 0", "value": 1}, "value": 0}}},
            "x2": {"field": "end"},
            "color": {"field": "s", "type": "nominal", "legend": null,
              "scale": {"domain": ["toward", "away", "mixed", "none"], "range": ["#29a8e0", "#ffff4d", "#a9d18e", "#c8c8c8"]}}
          }
        },
        {
          "data": {"name": "bfield"},
          "mark": {"type": "line", "color": "#0000ff", "strokeWidth": 1.2, "clip": true, "invalid": "break-paths-show-domains"},
          "encoding": {
            "x": {"field": "h", "type": "quantitative", "scale": {"domain": [0, 168], "nice": false, "zero": false},
              "axis": {"orient": "top", "title": null, "labels": false, "grid": false, "values": [0,2,4,6,8,10,12,14,16,18,20,22,24,26,28,30,32,34,36,38,40,42,44,46,48,50,52,54,56,58,60,62,64,66,68,70,72,74,76,78,80,82,84,86,88,90,92,94,96,98,100,102,104,106,108,110,112,114,116,118,120,122,124,126,128,130,132,134,136,138,140,142,144,146,148,150,152,154,156,158,160,162,164,166,168],
                "tickSize": {"condition": {"test": "datum.value % 12 === 0", "value": 6}, "value": 3.5}}},
            "y": {"field": "bx", "type": "quantitative", "scale": {"domain": [-25, 25], "nice": false, "zero": false},
              "axis": {"orient": "left", "zindex": 1, "values": [-25,-24,-23,-22,-21,-20,-19,-18,-17,-16,-15,-14,-13,-12,-11,-10,-9,-8,-7,-6,-5,-4,-3,-2,-1,0,1,2,3,4,5,6,7,8,9,10,11,12,13,14,15,16,17,18,19,20,21,22,23,24,25],
                "labelExpr": "datum.value % 10 === 0 ? datum.label : ''", "labelPadding": 6,
                "tickSize": {"condition": {"test": "datum.value % 10 === 0", "value": 10}, "value": 5},
                "grid": true, "gridOpacity": {"condition": {"test": "datum.value % 10 === 0 && abs(datum.value) < 25", "value": 1}, "value": 0},
                "title": "(nT, GSM)", "titleX": -69, "titleY": 60, "titleAngle": -90, "titleBaseline": "middle", "titleAlign": "center"}}
          }
        },
        {
          "data": {"name": "bfield"},
          "mark": {"type": "line", "color": "#000000", "strokeWidth": 1.2, "clip": true, "invalid": "break-paths-show-domains"},
          "encoding": {
            "x": {"field": "h", "type": "quantitative", "scale": {"domain": [0, 168], "nice": false, "zero": false}, "axis": null},
            "y": {"field": "by", "type": "quantitative", "scale": {"domain": [-25, 25], "nice": false, "zero": false},
              "axis": {"orient": "right", "labels": false, "grid": false, "values": [-25,-24,-23,-22,-21,-20,-19,-18,-17,-16,-15,-14,-13,-12,-11,-10,-9,-8,-7,-6,-5,-4,-3,-2,-1,0,1,2,3,4,5,6,7,8,9,10,11,12,13,14,15,16,17,18,19,20,21,22,23,24,25],
                "tickSize": {"condition": {"test": "datum.value % 10 === 0", "value": 10}, "value": 5},
                "title": ["Blue:", "Toward Sun"], "titleColor": "#29a8e0", "titleFontSize": 15, "titleLineHeight": 17.5,
                "titleAngle": 0, "titleAlign": "left", "titleBaseline": "top", "titleX": 30, "titleY": 3.5}}
          }
        },
        {
          "data": {"name": "bfield"},
          "mark": {"type": "line", "opacity": 0},
          "encoding": {
            "x": {"field": "h", "type": "quantitative", "scale": {"domain": [0, 168], "nice": false, "zero": false}, "axis": null},
            "y": {"field": "by", "type": "quantitative", "scale": {"domain": [-25, 25], "nice": false, "zero": false},
              "axis": {"orient": "right", "labels": false, "ticks": false, "domain": false, "grid": false,
                "title": ["Yellow:", "Away from Sun"], "titleFontSize": 15, "titleLineHeight": 17.5,
                "titleAngle": 0, "titleAlign": "left", "titleBaseline": "top", "titleX": 30, "titleY": 70}}
          }
        },
        {
          "data": {"name": "bfield"},
          "mark": {"type": "line", "opacity": 0},
          "encoding": {
            "x": {"field": "h", "type": "quantitative", "scale": {"domain": [0, 168], "nice": false, "zero": false}, "axis": null},
            "y": {"field": "by", "type": "quantitative", "scale": {"domain": [-25, 25], "nice": false, "zero": false},
              "axis": {"orient": "left", "title": "By", "labels": false, "ticks": false, "domain": false, "grid": false,
                "titleX": -104, "titleY": 87, "titleAngle": -90, "titleBaseline": "middle", "titleAlign": "center"}}
          }
        },
        {
          "data": {"name": "bfield"},
          "mark": {"type": "line", "opacity": 0},
          "encoding": {
            "x": {"field": "h", "type": "quantitative", "scale": {"domain": [0, 168], "nice": false, "zero": false}, "axis": null},
            "y": {"field": "bx", "type": "quantitative", "scale": {"domain": [-25, 25], "nice": false, "zero": false},
              "axis": {"orient": "left", "title": "Bx", "titleColor": "#0000ff", "labels": false, "ticks": false, "domain": false, "grid": false,
                "titleX": -104, "titleY": 43, "titleAngle": -90, "titleBaseline": "middle", "titleAlign": "center"}}
          }
        }
      ]
    },
    {
      "width": 991, "height": 19,
      "data": {"values": []},
      "mark": "point"
    },
    {
      "width": 991, "height": 151,
      "resolve": {"axis": {"x": "independent", "y": "independent"}},
      "layer": [
        {
          "data": {"name": "plasma"},
          "mark": {"type": "line", "color": "#ff8000", "strokeWidth": 2, "clip": true},
          "encoding": {
            "x": {"field": "h", "type": "quantitative", "scale": {"domain": [0, 168], "nice": false, "zero": false},
              "axis": {"orient": "bottom", "title": null, "labels": false, "values": [0,2,4,6,8,10,12,14,16,18,20,22,24,26,28,30,32,34,36,38,40,42,44,46,48,50,52,54,56,58,60,62,64,66,68,70,72,74,76,78,80,82,84,86,88,90,92,94,96,98,100,102,104,106,108,110,112,114,116,118,120,122,124,126,128,130,132,134,136,138,140,142,144,146,148,150,152,154,156,158,160,162,164,166,168],
                "tickSize": {"condition": {"test": "datum.value % 12 === 0", "value": 6}, "value": 3.5},
                "grid": true, "gridOpacity": {"condition": {"test": "datum.value % 24 === 0", "value": 1}, "value": 0}}},
            "y": {"field": "v", "type": "quantitative", "scale": {"domain": [200, 900], "nice": false, "zero": false},
              "axis": {"orient": "left", "values": [200,210,220,230,240,250,260,270,280,290,300,310,320,330,340,350,360,370,380,390,400,410,420,430,440,450,460,470,480,490,500,510,520,530,540,550,560,570,580,590,600,610,620,630,640,650,660,670,680,690,700,710,720,730,740,750,760,770,780,790,800,810,820,830,840,850,860,870,880,890,900],
                "labelExpr": "datum.value % 100 === 0 && datum.value >= 300 ? datum.label : ''", "labelPadding": 6,
                "tickSize": {"condition": {"test": "datum.value % 100 === 0", "value": 10}, "value": 5},
                "grid": true, "gridOpacity": {"condition": {"test": "datum.value % 100 === 0 && datum.value >= 300 && datum.value <= 800", "value": 1}, "value": 0},
                "title": ["Speed", "(km/s)"], "titleLineHeight": 37, "titleX": -104, "titleY": 76, "titleAngle": -90, "titleBaseline": "middle", "titleAlign": "center"}}
          }
        },
        {
          "data": {"name": "plasma"},
          "mark": {"type": "line", "opacity": 0},
          "encoding": {
            "x": {"field": "h", "type": "quantitative", "scale": {"domain": [0, 168], "nice": false, "zero": false},
              "axis": {"orient": "top", "title": null, "labels": false, "grid": false, "values": [0,2,4,6,8,10,12,14,16,18,20,22,24,26,28,30,32,34,36,38,40,42,44,46,48,50,52,54,56,58,60,62,64,66,68,70,72,74,76,78,80,82,84,86,88,90,92,94,96,98,100,102,104,106,108,110,112,114,116,118,120,122,124,126,128,130,132,134,136,138,140,142,144,146,148,150,152,154,156,158,160,162,164,166,168],
                "tickSize": {"condition": {"test": "datum.value % 12 === 0", "value": 6}, "value": 3.5}}},
            "y": {"field": "v", "type": "quantitative", "scale": {"domain": [200, 900], "nice": false, "zero": false},
              "axis": {"orient": "right", "title": null, "labels": false, "grid": false, "values": [200,210,220,230,240,250,260,270,280,290,300,310,320,330,340,350,360,370,380,390,400,410,420,430,440,450,460,470,480,490,500,510,520,530,540,550,560,570,580,590,600,610,620,630,640,650,660,670,680,690,700,710,720,730,740,750,760,770,780,790,800,810,820,830,840,850,860,870,880,890,900],
                "tickSize": {"condition": {"test": "datum.value % 100 === 0", "value": 10}, "value": 5}}}
          }
        }
      ]
    },
    {
      "width": 991, "height": 151,
      "resolve": {"axis": {"x": "independent", "y": "independent"}},
      "layer": [
        {
          "data": {"name": "density"},
          "mark": {"type": "line", "color": "#ff00dd", "strokeWidth": 3, "clip": true, "invalid": "break-paths-show-domains"},
          "encoding": {
            "x": {"field": "h", "type": "quantitative", "scale": {"domain": [0, 168], "nice": false, "zero": false},
              "axis": {"orient": "bottom", "title": null, "labels": false, "values": [0,2,4,6,8,10,12,14,16,18,20,22,24,26,28,30,32,34,36,38,40,42,44,46,48,50,52,54,56,58,60,62,64,66,68,70,72,74,76,78,80,82,84,86,88,90,92,94,96,98,100,102,104,106,108,110,112,114,116,118,120,122,124,126,128,130,132,134,136,138,140,142,144,146,148,150,152,154,156,158,160,162,164,166,168],
                "tickSize": {"condition": {"test": "datum.value % 12 === 0", "value": 6}, "value": 3.5},
                "grid": true, "gridOpacity": {"condition": {"test": "datum.value % 24 === 0", "value": 1}, "value": 0}}},
            "y": {"field": "n", "type": "quantitative", "scale": {"type": "log", "domain": [0.1, 100], "nice": false},
              "axis": {"orient": "left", "values": [0.1,0.2,0.3,0.4,0.5,0.6,0.7,0.8,0.9,1,2,3,4,5,6,7,8,9,10,20,30,40,50,60,70,80,90,100],
                "labelExpr": "indexof([0.1,1,10,100], datum.value) >= 0 ? format(datum.value, '.1f') : ''", "labelPadding": 6,
                "labelFlush": true, "labelFlushOffset": -3,
                "tickSize": {"condition": {"test": "indexof([0.1,1,10,100], datum.value) >= 0", "value": 10}, "value": 5},
                "grid": true, "gridOpacity": {"condition": {"test": "datum.value == 1 || datum.value == 10", "value": 1}, "value": 0},
                "title": ["Density", "(cm⁻³)"], "titleLineHeight": 28, "titleX": -104, "titleY": 92, "titleAngle": -90, "titleBaseline": "middle", "titleAlign": "center"}}
          }
        },
        {
          "data": {"name": "density"},
          "mark": {"type": "line", "opacity": 0},
          "encoding": {
            "x": {"field": "h", "type": "quantitative", "scale": {"domain": [0, 168], "nice": false, "zero": false},
              "axis": {"orient": "top", "title": null, "labels": false, "grid": false, "values": [0,2,4,6,8,10,12,14,16,18,20,22,24,26,28,30,32,34,36,38,40,42,44,46,48,50,52,54,56,58,60,62,64,66,68,70,72,74,76,78,80,82,84,86,88,90,92,94,96,98,100,102,104,106,108,110,112,114,116,118,120,122,124,126,128,130,132,134,136,138,140,142,144,146,148,150,152,154,156,158,160,162,164,166,168],
                "tickSize": {"condition": {"test": "datum.value % 12 === 0", "value": 6}, "value": 3.5}}},
            "y": {"field": "n", "type": "quantitative", "scale": {"type": "log", "domain": [0.1, 100], "nice": false},
              "axis": {"orient": "right", "title": null, "labels": false, "grid": false, "values": [0.1,0.2,0.3,0.4,0.5,0.6,0.7,0.8,0.9,1,2,3,4,5,6,7,8,9,10,20,30,40,50,60,70,80,90,100],
                "tickSize": {"condition": {"test": "indexof([0.1,1,10,100], datum.value) >= 0", "value": 10}, "value": 5}}}
          }
        }
      ]
    },
    {
      "width": 991, "height": 152,
      "resolve": {"axis": {"x": "independent", "y": "independent"}},
      "layer": [
        {
          "data": {"name": "plasma"},
          "mark": {"type": "line", "color": "#9400d3", "strokeWidth": 3, "clip": true},
          "encoding": {
            "x": {"field": "h", "type": "quantitative", "scale": {"domain": [0, 168], "nice": false, "zero": false},
              "axis": {"orient": "bottom", "title": null, "values": [0,2,4,6,8,10,12,14,16,18,20,22,24,26,28,30,32,34,36,38,40,42,44,46,48,50,52,54,56,58,60,62,64,66,68,70,72,74,76,78,80,82,84,86,88,90,92,94,96,98,100,102,104,106,108,110,112,114,116,118,120,122,124,126,128,130,132,134,136,138,140,142,144,146,148,150,152,154,156,158,160,162,164,166,168],
                "labelExpr": "datum.value % 24 === 0 ? '00' : (datum.value % 12 === 0 ? '12' : '')", "labelFontSize": 19, "labelPadding": 1,
                "tickSize": {"condition": {"test": "datum.value % 12 === 0", "value": 6}, "value": 3.5},
                "grid": true, "gridColor": "#666666", "gridDash": [1, 1.5],
                "gridOpacity": {"condition": {"test": "datum.value % 24 === 0", "value": 1}, "value": 0}}},
            "y": {"field": "T", "type": "quantitative", "scale": {"type": "log", "domain": [10000, 10000000], "nice": false},
              "axis": {"orient": "left", "values": [10000,20000,30000,40000,50000,60000,70000,80000,90000,100000,200000,300000,400000,500000,600000,700000,800000,900000,1000000,2000000,3000000,4000000,5000000,6000000,7000000,8000000,9000000,10000000],
                "labelExpr": "datum.value == 10000 ? '10⁴' : datum.value == 100000 ? '10⁵' : datum.value == 1000000 ? '10⁶' : datum.value == 10000000 ? '10⁷' : ''",
                "labelFontSize": 19, "labelPadding": 6, "labelFlush": true, "labelFlushOffset": -3,
                "tickSize": {"condition": {"test": "indexof([10000,100000,1000000,10000000], datum.value) >= 0", "value": 10}, "value": 5},
                "grid": true, "gridColor": "#666666", "gridDash": [1, 1.5],
                "gridOpacity": {"condition": {"test": "datum.value == 100000 || datum.value == 1000000", "value": 1}, "value": 0},
                "title": ["Temperature", "(K)"], "titleLineHeight": 38, "titleX": -106, "titleY": 70, "titleAngle": -90, "titleBaseline": "middle", "titleAlign": "center"}}
          }
        },
        {
          "data": {"name": "plasma"},
          "mark": {"type": "line", "opacity": 0},
          "encoding": {
            "x": {"field": "h", "type": "quantitative", "scale": {"domain": [0, 168], "nice": false, "zero": false},
              "axis": {"orient": "top", "title": null, "labels": false, "grid": false, "values": [0,2,4,6,8,10,12,14,16,18,20,22,24,26,28,30,32,34,36,38,40,42,44,46,48,50,52,54,56,58,60,62,64,66,68,70,72,74,76,78,80,82,84,86,88,90,92,94,96,98,100,102,104,106,108,110,112,114,116,118,120,122,124,126,128,130,132,134,136,138,140,142,144,146,148,150,152,154,156,158,160,162,164,166,168],
                "tickSize": {"condition": {"test": "datum.value % 12 === 0", "value": 6}, "value": 3.5}}},
            "y": {"field": "T", "type": "quantitative", "scale": {"type": "log", "domain": [10000, 10000000], "nice": false},
              "axis": {"orient": "right", "labels": false, "grid": false, "values": [10000,20000,30000,40000,50000,60000,70000,80000,90000,100000,200000,300000,400000,500000,600000,700000,800000,900000,1000000,2000000,3000000,4000000,5000000,6000000,7000000,8000000,9000000,10000000],
                "tickSize": {"condition": {"test": "indexof([10000,100000,1000000,10000000], datum.value) >= 0", "value": 10}, "value": 5},
                "title": "Not for publication",
                "titleFontSize": 15, "titleAngle": 0, "titleAlign": "left", "titleBaseline": "top", "titleX": 30, "titleY": 19.5}}
          }
        },
        {
          "data": {"name": "plasma"},
          "mark": {"type": "line", "opacity": 0},
          "encoding": {
            "x": {"field": "h", "type": "quantitative", "scale": {"domain": [0, 168], "nice": false, "zero": false}, "axis": null},
            "y": {"field": "T", "type": "quantitative", "scale": {"type": "log", "domain": [10000, 10000000], "nice": false},
              "axis": {"orient": "right", "labels": false, "ticks": false, "domain": false, "grid": false,
                "title": ["data from NOAA/SWPC", "plotted by NICT"],
                "titleFontSize": 15, "titleLineHeight": 17.2, "titleAngle": 0, "titleAlign": "left", "titleBaseline": "top", "titleX": 30, "titleY": 54}}
          }
        },
        {
          "data": {"name": "plasma"},
          "mark": {"type": "line", "opacity": 0},
          "encoding": {
            "x": {"field": "h", "type": "quantitative", "scale": {"domain": [0, 168], "nice": false, "zero": false}, "axis": null},
            "y": {"field": "T", "type": "quantitative", "scale": {"type": "log", "domain": [10000, 10000000], "nice": false},
              "axis": {"orient": "right", "labels": false, "ticks": false, "domain": false, "grid": false,
                "title": ["Last update:", "2026/06/28 06:40 UT"],
                "titleFontSize": 15, "titleLineHeight": 17.2, "titleAngle": 0, "titleAlign": "left", "titleBaseline": "top", "titleX": 30, "titleY": 105.5}}
          }
        },
        {
          "data": {"name": "plasma"},
          "mark": {"type": "line", "opacity": 0},
          "encoding": {
            "x": {"field": "h", "type": "quantitative", "scale": {"domain": [0, 168], "nice": false, "zero": false},
              "axis": {"orient": "bottom", "offset": 36, "title": null, "grid": false, "ticks": false, "values": [0,24,48,72,96,120,144,168],
                "labelExpr": "['22 Jun.','23 Jun.','24 Jun.','25 Jun.','26 Jun.','27 Jun.','28 Jun.','29 Jun.'][round(datum.value / 24)]",
                "labelFontSize": 20, "labelPadding": 1.5}},
            "y": {"field": "T", "type": "quantitative", "scale": {"type": "log", "domain": [10000, 10000000], "nice": false}, "axis": null}
          }
        }
      ]
    }
  ],
  "spacing": 0,
  "bounds": "flush"
}
